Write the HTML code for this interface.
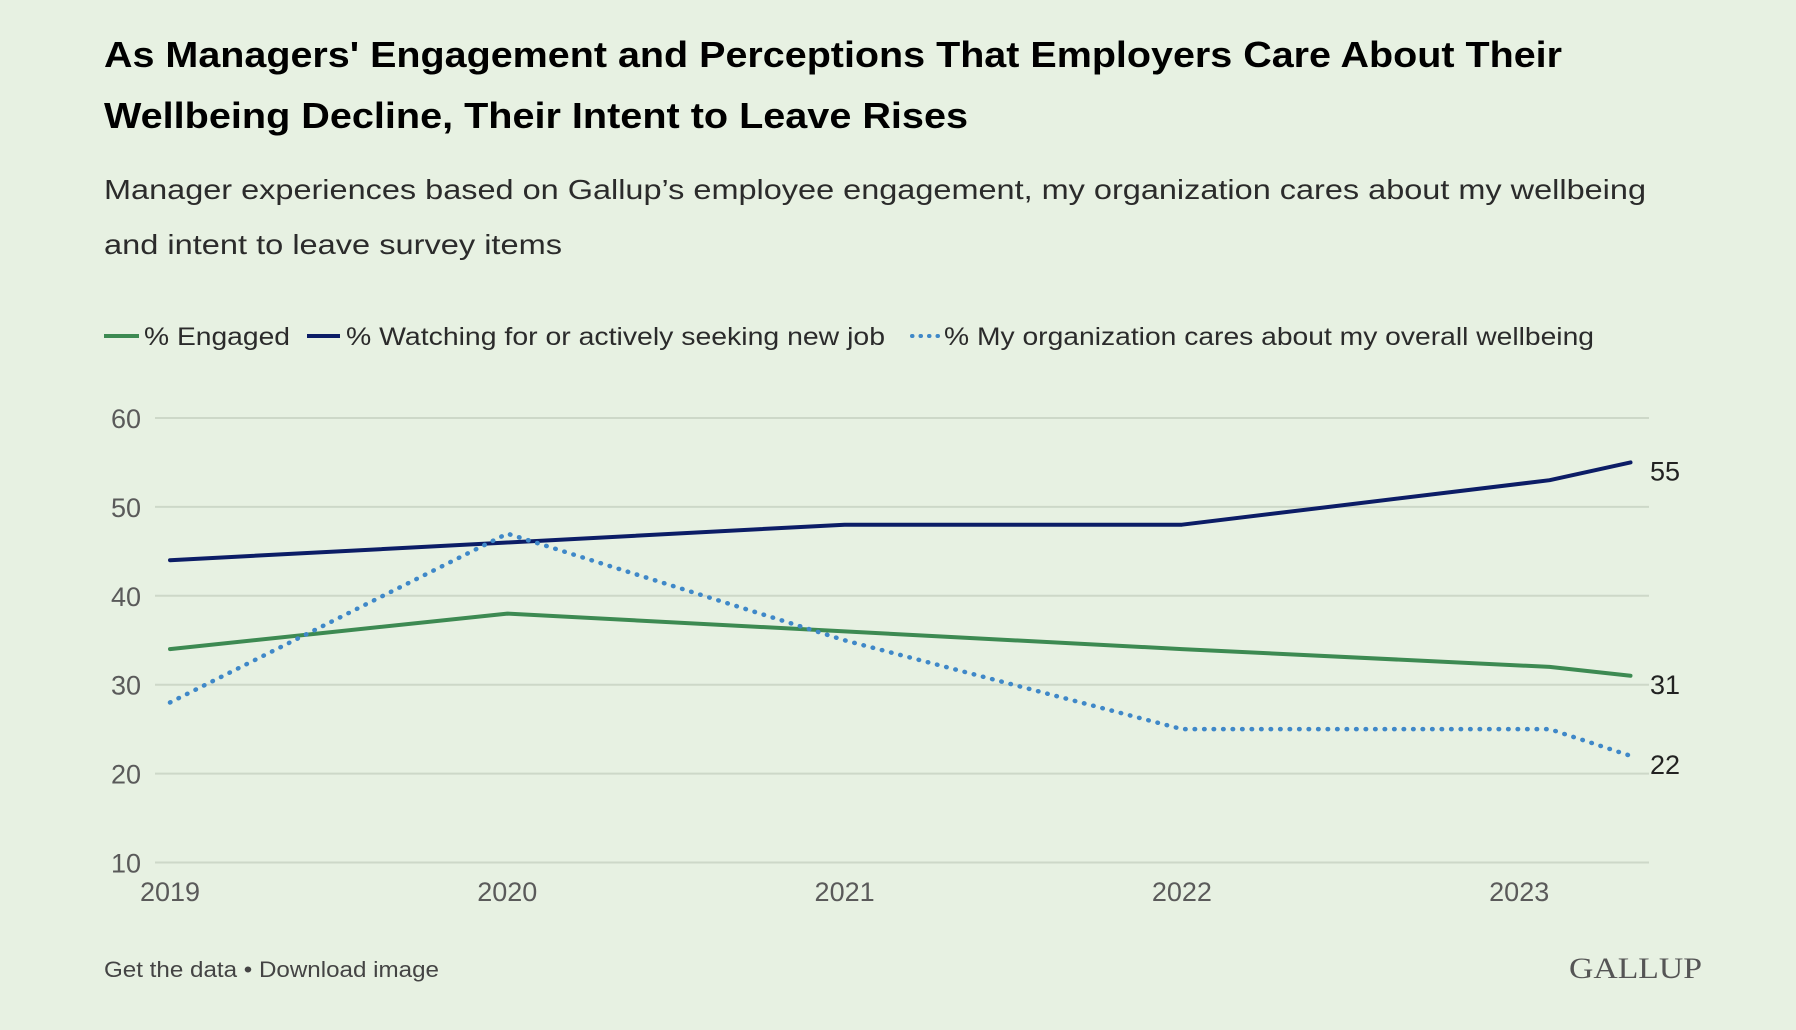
<!DOCTYPE html>
<html><head><meta charset="utf-8"><style>
html,body{margin:0;padding:0;background:#e7f1e2;}
svg{display:block;font-family:"Liberation Sans",sans-serif;}
</style></head><body>
<svg id="chart" width="1796" height="1030" viewBox="0 0 1796 1030" xmlns="http://www.w3.org/2000/svg">
<rect width="1796" height="1030" fill="#e7f1e2"/>
<text x="104" y="67" font-size="36" font-weight="bold" fill="#000" textLength="1458" lengthAdjust="spacingAndGlyphs">As Managers' Engagement and Perceptions That Employers Care About Their</text>
<text x="104" y="128" font-size="36" font-weight="bold" fill="#000" textLength="864" lengthAdjust="spacingAndGlyphs">Wellbeing Decline, Their Intent to Leave Rises</text>
<text x="104" y="199" font-size="28" fill="#2b2b2b" textLength="1542" lengthAdjust="spacingAndGlyphs">Manager experiences based on Gallup’s employee engagement, my organization cares about my wellbeing</text>
<text x="104" y="254" font-size="28" fill="#2b2b2b" textLength="458" lengthAdjust="spacingAndGlyphs">and intent to leave survey items</text>
<g>
<line x1="104" y1="336" x2="139" y2="336" stroke="#3d8a52" stroke-width="4"/>
<text x="144" y="345" font-size="25" fill="#2b2b2b" textLength="146" lengthAdjust="spacingAndGlyphs">% Engaged</text>
<line x1="307" y1="336" x2="340" y2="336" stroke="#0c1d66" stroke-width="4"/>
<text x="346" y="345" font-size="25" fill="#2b2b2b" textLength="539" lengthAdjust="spacingAndGlyphs">% Watching for or actively seeking new job</text>
<line x1="912" y1="336" x2="940" y2="336" stroke="#3f88c8" stroke-width="4" stroke-dasharray="0.5 8" stroke-linecap="round"/>
<text x="944" y="345" font-size="25" fill="#2b2b2b" textLength="650" lengthAdjust="spacingAndGlyphs">% My organization cares about my overall wellbeing</text>
</g>
<g id="grid"></g><g id="series"></g>
<text x="104" y="977" font-size="22" fill="#444" textLength="335" lengthAdjust="spacingAndGlyphs">Get the data • Download image</text>
<text x="1569" y="978" font-family="Liberation Serif, serif" font-size="30" fill="#555" textLength="133" lengthAdjust="spacingAndGlyphs">GALLUP</text>
</svg>
<script>
const years = [2019, 2020, 2021, 2022, 2023.09, 2023.33];
const engaged = [34, 38, 36, 34, 32, 31];
const watching = [44, 46, 48, 48, 53, 55];
const wellbeing = [28, 47, 35, 25, 25, 22];
const yTicks = [10, 20, 30, 40, 50, 60];
const xTickLabels = [2019, 2020, 2021, 2022, 2023];

const NS = "http://www.w3.org/2000/svg";
const x = v => 170 + (v - 2019) * 337.3;
const y = v => 862.5 - (v - 10) * 8.89;
const grid = document.getElementById('grid');
const ser = document.getElementById('series');
function mk(tag, attrs, parent){const e=document.createElementNS(NS,tag);for(const k in attrs)e.setAttribute(k,attrs[k]);parent.appendChild(e);return e;}
yTicks.forEach(t=>{
  const l=mk('line',{x1:155,x2:1649,y1:y(t),y2:y(t),stroke:'#cdd8c8','stroke-width':2},grid);
  
  
  const tx=mk('text',{x:141,y:y(t)+10,'font-size':27,fill:'#5a5a5a','text-anchor':'end'},grid);
  tx.textContent=t;
  
  
});
xTickLabels.forEach(t=>{
  const tx=mk('text',{x:x(t),y:901,'font-size':27,fill:'#5a5a5a','text-anchor':'middle'},grid);
  tx.textContent=t;
  
  
});
function line(vals,color,name,dash){
  const d=vals.map((v,i)=>(i?'L':'M')+x(years[i]).toFixed(1)+','+y(v).toFixed(1)).join('');
  const p=mk('path',{d:d,fill:'none',stroke:color,'stroke-width':4,'stroke-linejoin':'round','stroke-linecap':'round'},ser);
  if(dash){p.setAttribute('stroke-dasharray','0.5 9');p.setAttribute('stroke-width','4.5');}
  
  
}
line(engaged,'#3d8a52','line-engaged',false);
line(watching,'#0c1d66','line-watching',false);
line(wellbeing,'#3f88c8','line-wellbeing',true);
[[watching,'end-label-watching'],[engaged,'end-label-engaged'],[wellbeing,'end-label-wellbeing']].forEach(([arr,n])=>{
  const v=arr[arr.length-1];
  const tx=mk('text',{x:1650,y:y(v)+18,'font-size':27,fill:'#222'},ser);
  tx.textContent=v;
  
  
});
</script>
</body></html>
